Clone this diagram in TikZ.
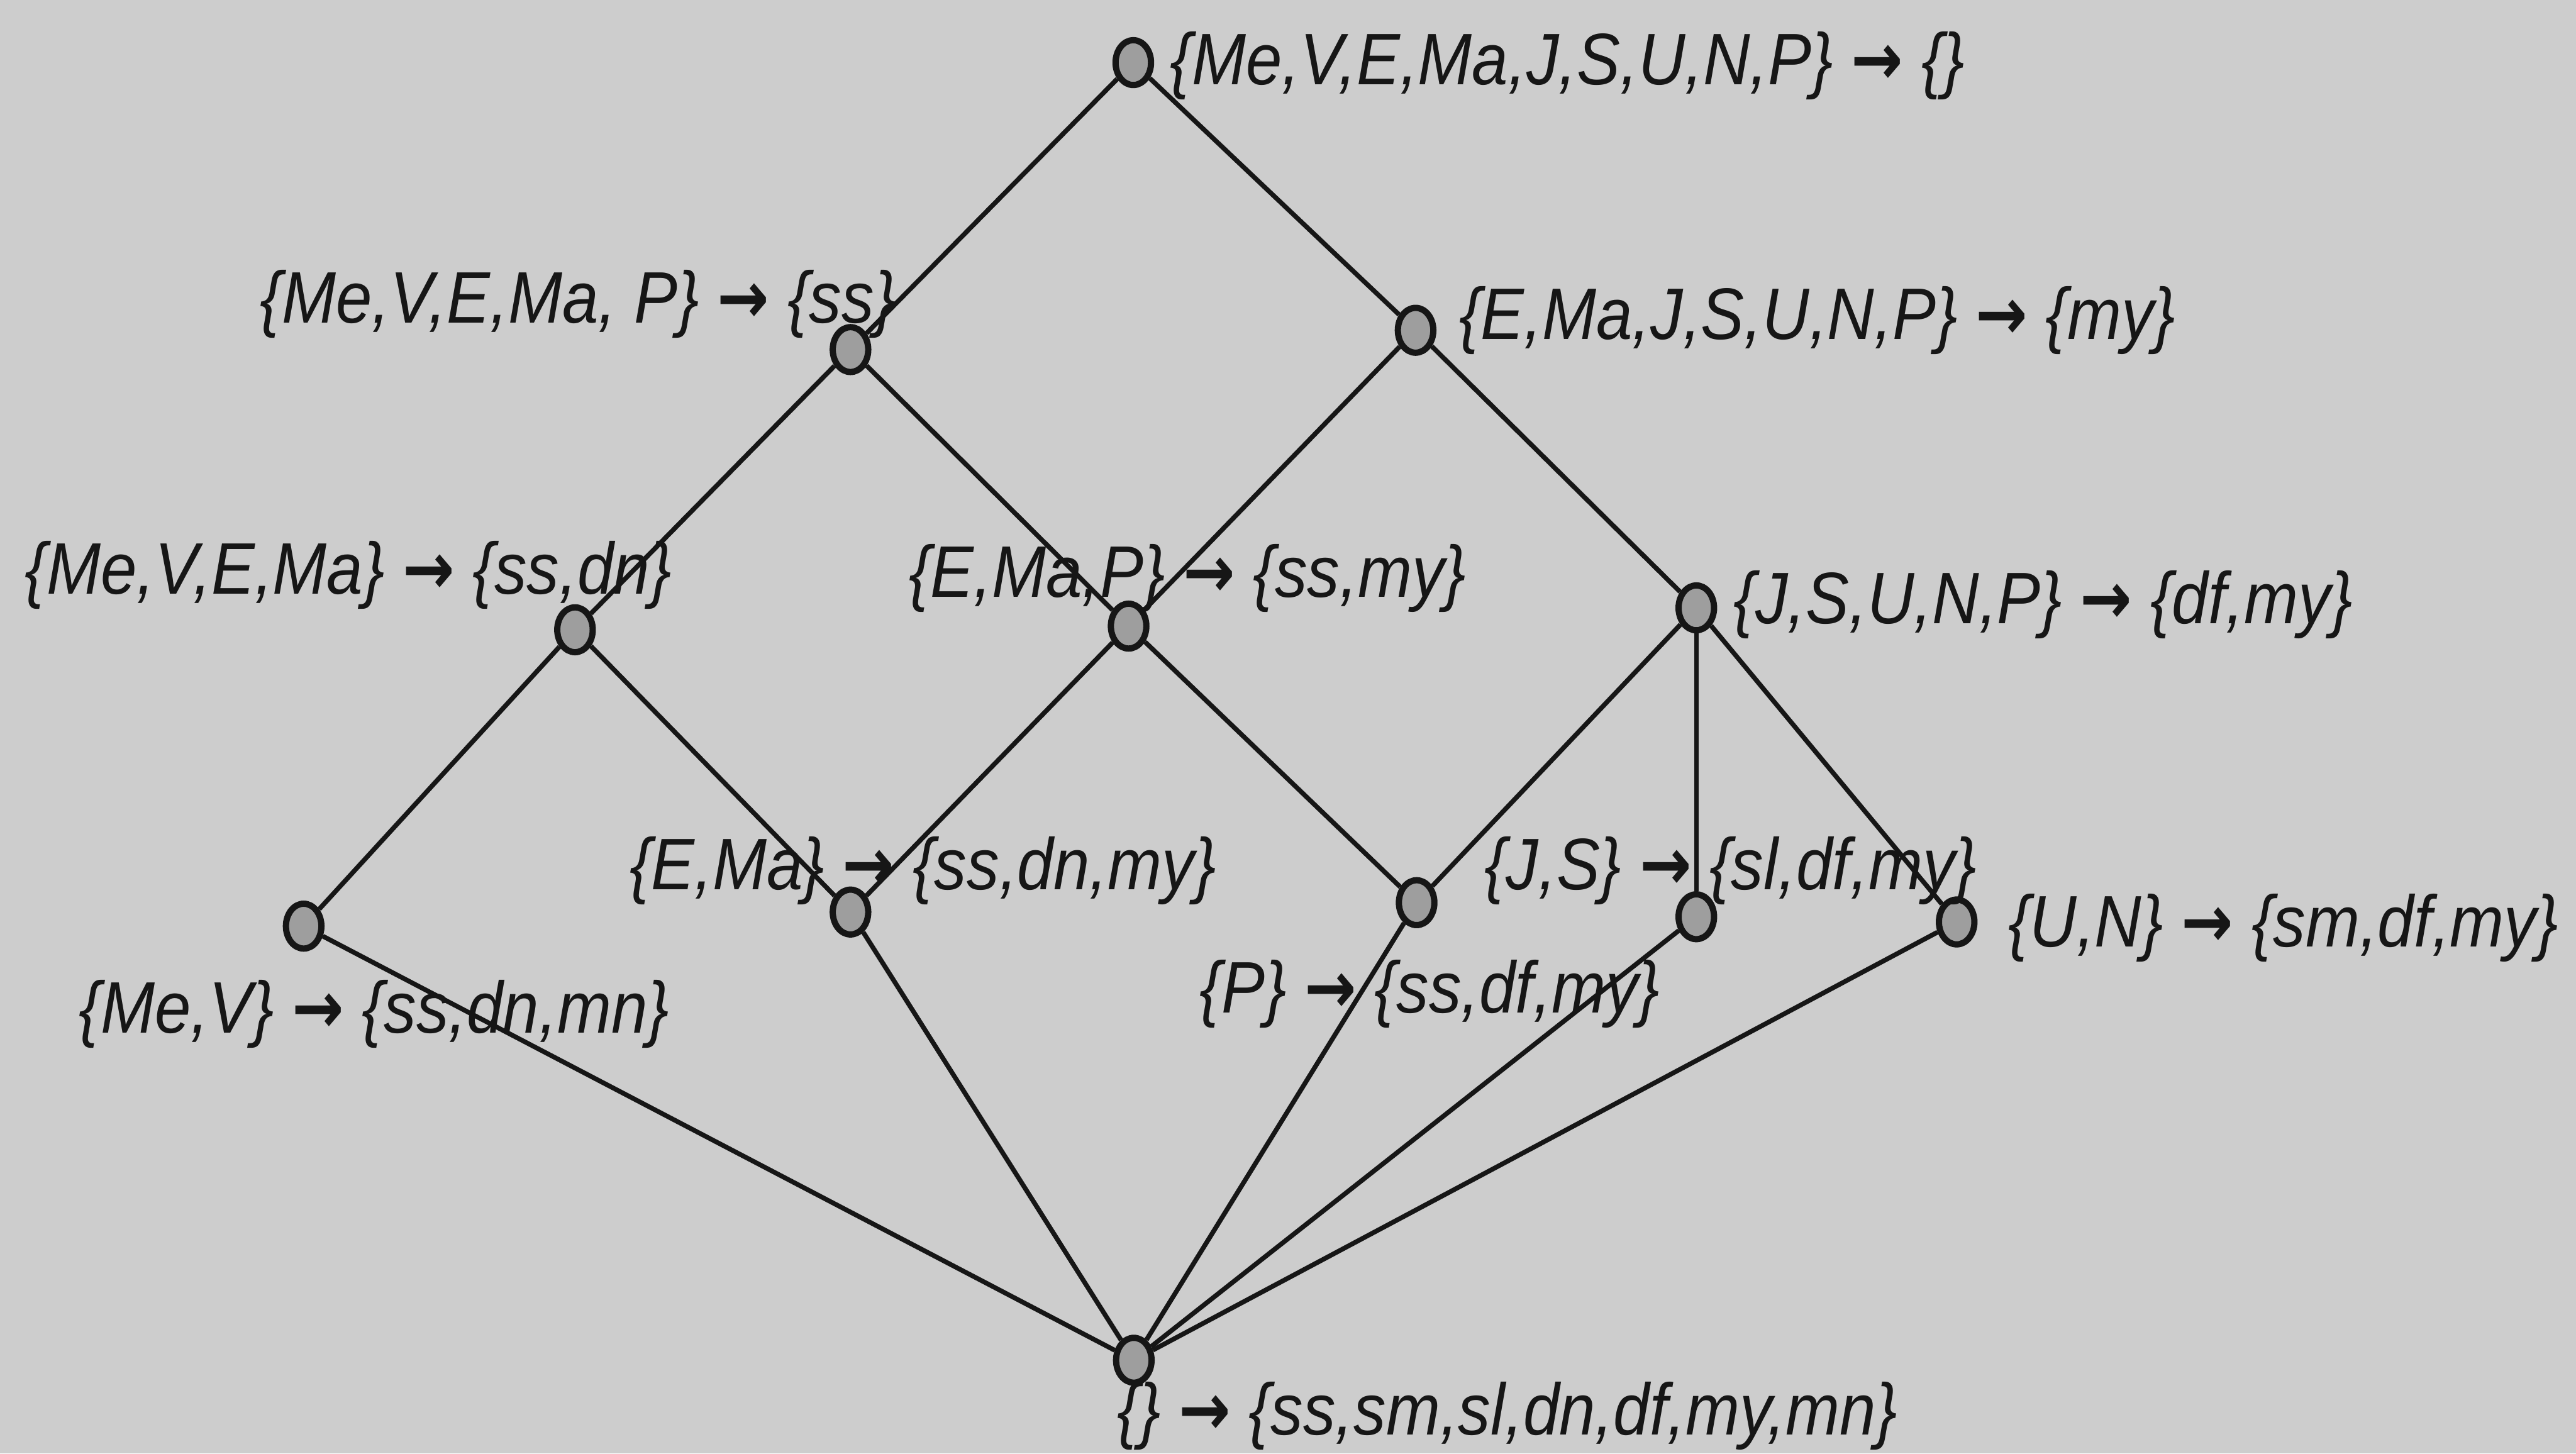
\documentclass[tikz,border=0pt]{standalone}
\usepackage{fontspec}
\setmainfont{Liberation Sans}[FakeStretch=0.89]
\newfontfamily\arrowfont{DejaVu Sans}[FakeStretch=0.85]
\usetikzlibrary{shapes.geometric}
\definecolor{bg}{RGB}{205,205,205}
\definecolor{nodefill}{RGB}{158,158,158}
\definecolor{ink}{RGB}{22,22,22}
\newcommand{\arr}{{\arrowfont\bfseries →}}
\tikzset{
  vtx/.style={ellipse, draw=ink, fill=nodefill, line width=0.12cm, inner sep=0pt, minimum width=0.68cm, minimum height=0.86cm},
  lbl/.style={anchor=west, inner sep=0pt, text=ink, font=\fontsize{39.8pt}{48pt}\selectfont\itshape},
  edge/.style={draw=ink, line width=0.09cm}
}
\begin{document}
\begin{tikzpicture}
\fill[bg] (0,0) rectangle (49.37,-27.86);
\useasboundingbox (0,0) rectangle (49.37,-27.86);
% vertices
\node[vtx] (top)  at (21.72,-1.20) {};
\node[vtx] (ss)   at (16.30,-6.70) {};
\node[vtx] (my)   at (27.13,-6.33) {};
\node[vtx] (ssdn) at (11.02,-12.07) {};
\node[vtx] (ssmy) at (21.63,-12.00) {};
\node[vtx] (dfmy) at (32.51,-11.65) {};
\node[vtx] (mev)  at (5.82,-17.75) {};
\node[vtx] (ema)  at (16.30,-17.48) {};
\node[vtx] (p)    at (27.15,-17.30) {};
\node[vtx] (js)   at (32.51,-17.57) {};
\node[vtx] (un)   at (37.50,-17.67) {};
\node[vtx] (bot)  at (21.73,-26.07) {};
% edges
\draw[edge] (top) -- (ss);
\draw[edge] (top) -- (my);
\draw[edge] (ss) -- (ssdn);
\draw[edge] (ss) -- (ssmy);
\draw[edge] (my) -- (ssmy);
\draw[edge] (my) -- (dfmy);
\draw[edge] (ssdn) -- (mev);
\draw[edge] (ssdn) -- (ema);
\draw[edge] (ssmy) -- (ema);
\draw[edge] (ssmy) -- (p);
\draw[edge] (dfmy) -- (p);
\draw[edge] (dfmy) -- (js);
\draw[edge] (dfmy) -- (un);
\draw[edge] (mev) -- (bot);
\draw[edge] (ema) -- (bot);
\draw[edge] (p) -- (bot);
\draw[edge] (js) -- (bot);
\draw[edge] (un) -- (bot);
% labels
\node[lbl] (l1)  at (22.42,-1.26)  {\{Me,V,E,Ma,J,S,U,N,P\} \arr{} \{\}};
\node[lbl] (l2)  at (4.98,-5.83)   {\{Me,V,E,Ma, P\} \arr{} \{ss\}};
\node[lbl] (l3)  at (27.96,-6.14)  {\{E,Ma,J,S,U,N,P\} \arr{} \{my\}};
\node[lbl] (l4)  at (0.47,-11.02)  {\{Me,V,E,Ma\} \arr{} \{ss,dn\}};
\node[lbl] (l5)  at (17.41,-11.08) {\{E,Ma,P\} \arr{} \{ss,my\}};
\node[lbl] (l6)  at (33.22,-11.59) {\{J,S,U,N,P\} \arr{} \{df,my\}};
\node[lbl] (l7)  at (12.06,-16.69) {\{E,Ma\} \arr{} \{ss,dn,my\}};
\node[lbl] (l8)  at (28.44,-16.69) {\{J,S\} \arr{} \{sl,df,my\}};
\node[lbl] (l9)  at (38.48,-17.79) {\{U,N\} \arr{} \{sm,df,my\}};
\node[lbl] (l10) at (1.51,-19.43)  {\{Me,V\} \arr{} \{ss,dn,mn\}};
\node[lbl] (l11) at (22.99,-19.05) {\{P\} \arr{} \{ss,df,my\}};
\node[lbl] (l12) at (21.41,-27.14) {\{\} \arr{} \{ss,sm,sl,dn,df,my,mn\}};
\end{tikzpicture}
\end{document}
